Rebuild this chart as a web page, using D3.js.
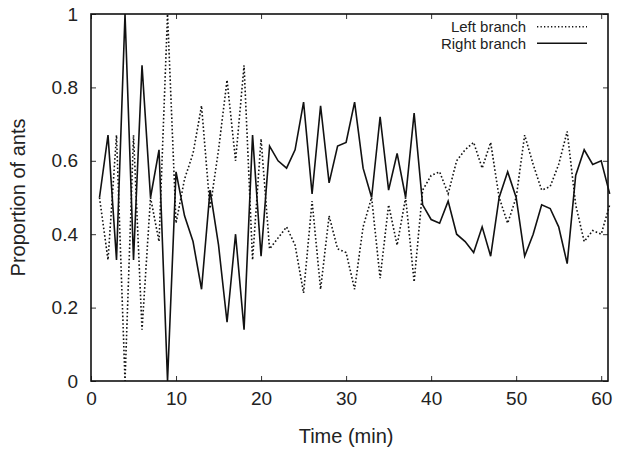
<!DOCTYPE html>
<html>
<head>
<meta charset="utf-8">
<script src="https://cdn.jsdelivr.net/npm/d3@7"></script>
<style>
  body { margin: 0; background: #fff; }
  text { font-family: "Liberation Sans", Arial, sans-serif; fill: #222; }
</style>
</head>
<body>
<svg id="drawing_region"></svg>
<script>
// minutes 1..61
const minutes = d3.range(1, 62);

const right_branch = [
    0.50, 0.67, 0.33, 1.00, 0.33, 0.86, 0.50, 0.63, 0.00, 0.57,
    0.45, 0.38, 0.25, 0.52, 0.37, 0.16, 0.40, 0.14, 0.67, 0.34,
    0.64, 0.60, 0.58, 0.63, 0.76, 0.51, 0.75, 0.54, 0.64, 0.65,
    0.76, 0.58, 0.50, 0.72, 0.52, 0.62, 0.50, 0.73, 0.48, 0.44,
    0.43, 0.49, 0.40, 0.38, 0.35, 0.42, 0.34, 0.50, 0.57, 0.50,
    0.34, 0.40, 0.48, 0.47, 0.42, 0.32, 0.56, 0.63, 0.59, 0.60,
    0.51
];

const left_branch = [
    0.50, 0.33, 0.67, 0.00, 0.67, 0.14, 0.50, 0.38, 1.00, 0.43,
    0.55, 0.62, 0.75, 0.47, 0.63, 0.82, 0.60, 0.86, 0.33, 0.66,
    0.36, 0.39, 0.42, 0.37, 0.24, 0.49, 0.25, 0.45, 0.36, 0.35,
    0.25, 0.42, 0.50, 0.28, 0.48, 0.37, 0.50, 0.27, 0.52, 0.56,
    0.57, 0.51, 0.60, 0.63, 0.65, 0.58, 0.65, 0.50, 0.43, 0.50,
    0.67, 0.59, 0.52, 0.53, 0.59, 0.68, 0.48, 0.38, 0.41, 0.40,
    0.48
];

const x_ticks = [0, 10, 20, 30, 40, 50, 60];
const y_ticks = [0, 0.2, 0.4, 0.6, 0.8, 1];

const series_names = ["Left branch", "Right branch"];

const config = {
    width: 624,
    height: 450,
    margin: { left: 91, right: 16, top: 14, bottom: 69 }
};

const svg = d3.select('#drawing_region')
    .attr('width', config.width)
    .attr('height', config.height);

const inner_w = config.width - config.margin.left - config.margin.right;
const inner_h = config.height - config.margin.top - config.margin.bottom;

const chart = svg.append('g')
    .attr('transform', `translate(${config.margin.left}, ${config.margin.top})`);

const xscale = d3.scaleLinear()
    .domain([0, 60.8])
    .range([0, inner_w]);

const yscale = d3.scaleLinear()
    .domain([0, 1])
    .range([inner_h, 0]);

const fmt = d => d === 0 || d === 1 ? String(d) : d3.format('.1f')(d);

// axes with inward ticks, all four sides
const tick_len = 5;
chart.append('g')
    .attr('transform', `translate(0, ${inner_h})`)
    .call(d3.axisBottom(xscale).tickValues(x_ticks).tickSizeInner(-tick_len).tickSizeOuter(0).tickPadding(11))
    .call(g => g.select('.domain').remove())
    .selectAll('text').style('font-size', '19px');

chart.append('g')
    .call(d3.axisTop(xscale).tickValues(x_ticks).tickSizeInner(-tick_len).tickSizeOuter(0).tickFormat(''))
    .call(g => g.select('.domain').remove());

chart.append('g')
    .call(d3.axisLeft(yscale).tickValues(y_ticks).tickSizeInner(-tick_len).tickSizeOuter(0).tickPadding(13).tickFormat(fmt))
    .call(g => g.select('.domain').remove())
    .selectAll('text').style('font-size', '19px');

chart.append('g')
    .attr('transform', `translate(${inner_w}, 0)`)
    .call(d3.axisRight(yscale).tickValues(y_ticks).tickSizeInner(-tick_len).tickSizeOuter(0).tickFormat(''))
    .call(g => g.select('.domain').remove());

chart.selectAll('.tick line').attr('stroke', '#333').attr('stroke-width', 1);

// lines
const line = d3.line()
    .x((d, i) => xscale(minutes[i]))
    .y(d => yscale(d));

chart.append('path')
    .datum(left_branch)
    .attr('d', line)
    .attr('fill', 'none')
    .attr('stroke', '#111')
    .attr('stroke-width', 1.6)
    .attr('stroke-dasharray', '1.6,2.2');

chart.append('path')
    .datum(right_branch)
    .attr('d', line)
    .attr('fill', 'none')
    .attr('stroke', '#111')
    .attr('stroke-width', 1.6)
    .attr('stroke-linejoin', 'miter');

// frame
chart.append('rect')
    .attr('width', inner_w)
    .attr('height', inner_h)
    .attr('fill', 'none')
    .attr('stroke', '#111')
    .attr('stroke-width', 1.6);

// legend
const legend = chart.append('g')
    .attr('transform', `translate(${inner_w}, 0)`);

series_names.forEach((name, i) => {
    const y = 12.7 + i * 16.6;
    legend.append('text')
        .attr('x', -82)
        .attr('y', y)
        .attr('dy', '0.35em')
        .attr('text-anchor', 'end')
        .style('font-size', '15px')
        .text(name);
    legend.append('line')
        .attr('x1', -71)
        .attr('x2', -21)
        .attr('y1', y)
        .attr('y2', y)
        .attr('stroke', '#111')
        .attr('stroke-width', 1.4)
        .attr('stroke-dasharray', i === 0 ? '1.3,2.2' : null);
});

// axis titles
svg.append('text')
    .attr('x', config.margin.left + xscale(30))
    .attr('y', 443)
    .attr('text-anchor', 'middle')
    .style('font-size', '20px')
    .text('Time (min)');

svg.append('text')
    .attr('transform', `translate(25, ${config.margin.top + inner_h / 2}) rotate(-90)`)
    .attr('text-anchor', 'middle')
    .style('font-size', '20px')
    .text('Proportion of ants');
</script>
</body>
</html>
